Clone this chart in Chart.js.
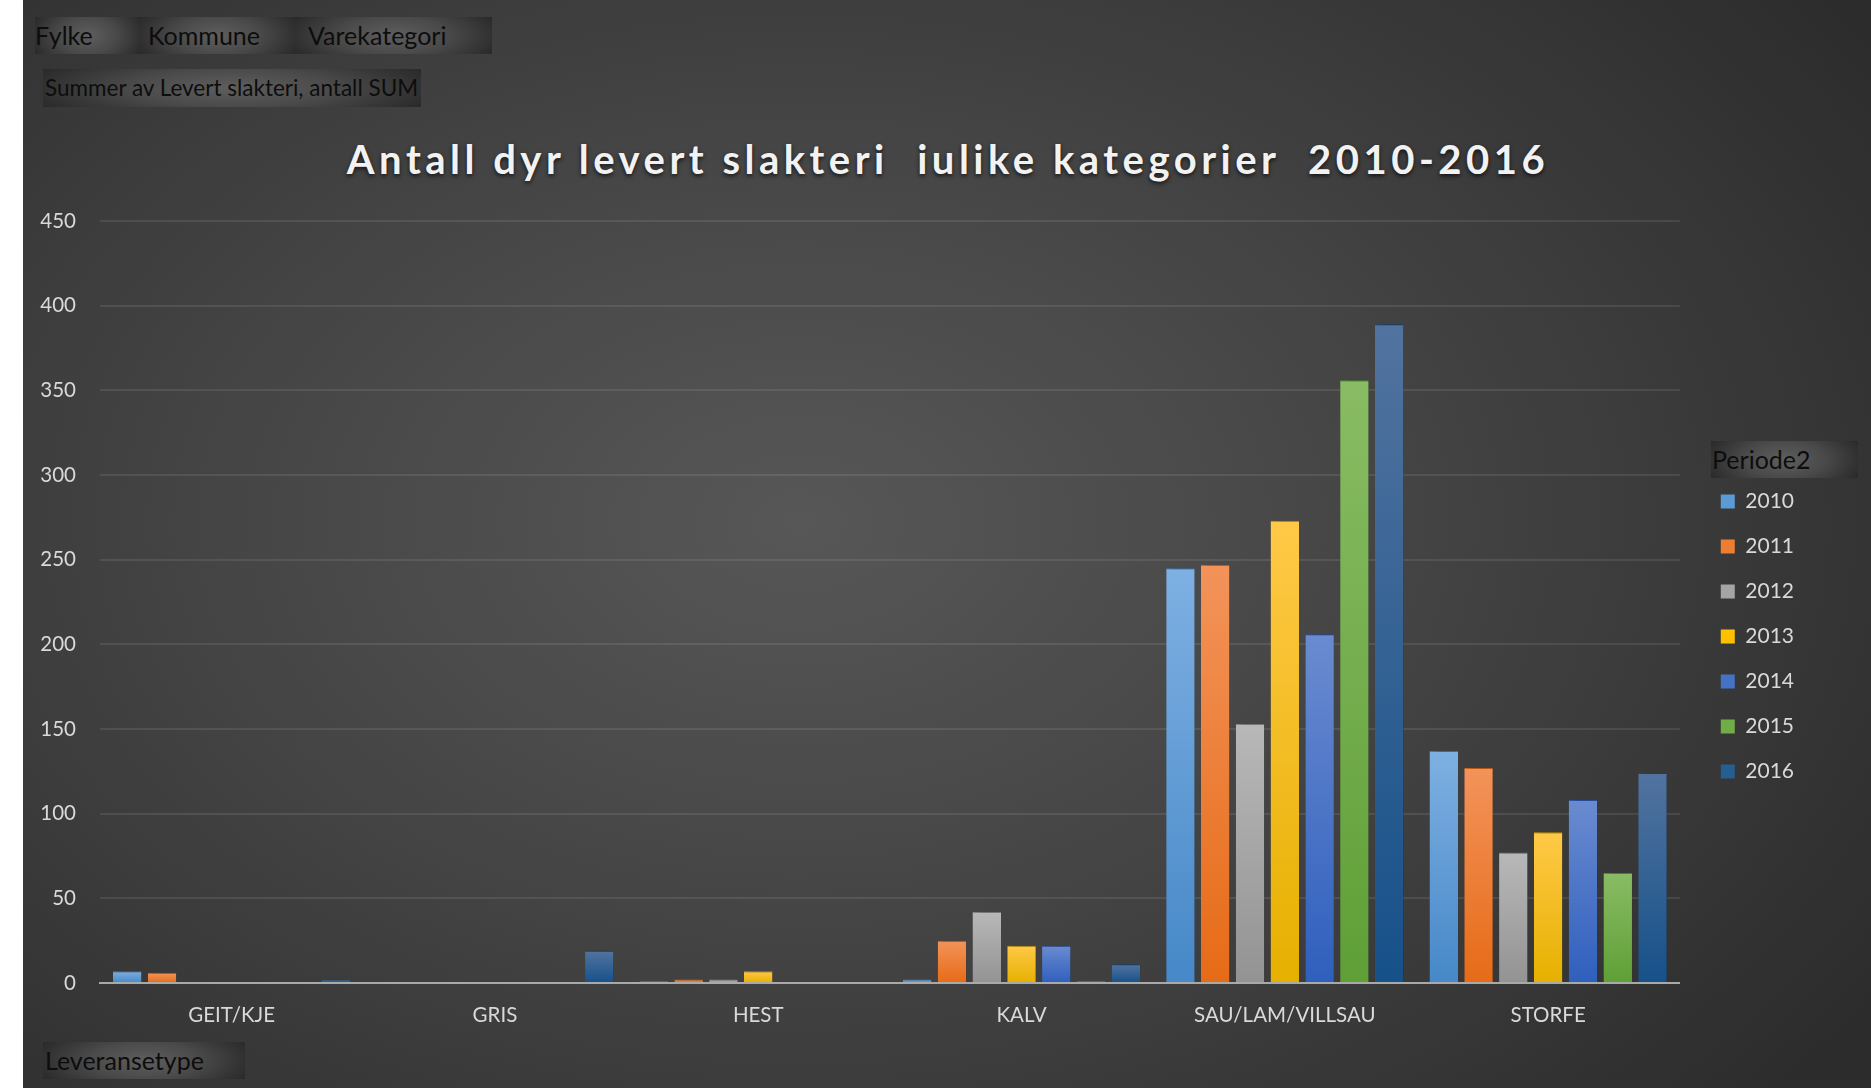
<!DOCTYPE html>
<html>
<head>
<meta charset="utf-8">
<script src="https://cdn.jsdelivr.net/npm/chart.js@4.4.1/dist/chart.umd.min.js"></script>
<style>
  html, body { margin: 0; padding: 0; background: #fff; }
  body { width: 1871px; height: 1088px; position: relative; overflow: hidden; font-family: Lato, "Open Sans", sans-serif; }
  #bg {
    position: absolute; left: 23px; top: 0; right: 0; bottom: 0;
    background: radial-gradient(ellipse 70% 80% at 42% 48%, #575757 0%, #474747 40%, #2c2c2c 100%);
  }
  #wrap { position: absolute; left: 0; top: 0; width: 1871px; height: 1088px; }
  .btn {
    position: absolute; height: 37px; line-height: 37px; color: #0d0d0d; font-size: 25px;
    background: radial-gradient(ellipse 60% 110% at 50% 50%, #5e5e5e 0%, #4a4a4a 45%, #262626 100%);
    white-space: nowrap; box-sizing: border-box;
  }
  #title {
    position: absolute; left: 0; width: 1896px; top: 140px; text-align: center;
    font: bold 40px/39px Lato, sans-serif; letter-spacing: 4.5px; color: #f2f2f2;
    white-space: pre; text-shadow: 0 2px 4px rgba(0,0,0,0.7);
  }
</style>
</head>
<body>
<div id="bg"></div>
<div class="btn" style="left:35px;top:17px;width:105px;">Fylke</div>
<div class="btn" style="left:140px;top:17px;width:155px;padding-left:8px;">Kommune</div>
<div class="btn" style="left:295px;top:17px;width:197px;padding-left:13px;">Varekategori</div>
<div class="btn" style="left:43px;top:69px;width:378px;height:38px;line-height:38px;font-size:22.5px;padding-left:2px;">Summer av Levert slakteri, antall SUM</div>
<div class="btn" style="left:43px;top:1042px;width:202px;padding-left:2px;">Leveransetype</div>
<div class="btn" style="left:1711px;top:441px;width:147px;padding-left:1px;">Periode2</div>
<div id="title">Antall dyr levert slakteri  iulike kategorier  2010-2016</div>
<div id="wrap"><canvas id="chart" width="1871" height="1088"></canvas></div>
<script>
const categories = ['GEIT/KJE', 'GRIS', 'HEST', 'KALV', 'SAU/LAM/VILLSAU', 'STORFE'];
const years = ['2010', '2011', '2012', '2013', '2014', '2015', '2016'];

const v2010 = [7, null, 1, 2, 245, 137];
const v2011 = [6, null, 2, 25, 247, 127];
const v2012 = [null, null, 2, 42, 153, 77];
const v2013 = [null, null, 7, 22, 273, 89];
const v2014 = [null, null, null, 22, 206, 108];
const v2015 = [null, null, null, 1, 356, 65];
const v2016 = [2, 19, null, 11, 389, 124];

const yTicks = [0, 50, 100, 150, 200, 250, 300, 350, 400, 450];

// lys topp, grunnfarge, mørk bunn
const palette = [
  ['#7eb0e2', '#5b9bd5', '#4688c8'],
  ['#f3935a', '#ed7d31', '#e66b17'],
  ['#b8b8b8', '#a5a5a5', '#939393'],
  ['#ffc947', '#ffc000', '#e6b000'],
  ['#6a8bd0', '#4472c4', '#2f5fbd'],
  ['#89bc64', '#70ad47', '#5f9f36'],
  ['#52739f', '#255e91', '#165189']
];

const series = [v2010, v2011, v2012, v2013, v2014, v2015, v2016];

function barFill(cols) {
  return (c) => {
    if (c.type !== 'data' || c.raw == null) return cols[1];
    const y = c.chart.scales.y;
    const top = y.getPixelForValue(c.raw);
    const bottom = y.getPixelForValue(0);
    if (!isFinite(top) || !isFinite(bottom) || top === bottom) return cols[1];
    const g = c.chart.ctx.createLinearGradient(0, top, 0, bottom);
    g.addColorStop(0, cols[0]);
    g.addColorStop(1, cols[2]);
    return g;
  };
}

const barShadow = {
  id: 'barShadow',
  beforeDatasetsDraw(chart) {
    const c = chart.ctx;
    c.save();
    c.shadowColor = 'rgba(0,0,0,0.45)';
    c.shadowBlur = 10;
    c.shadowOffsetX = 3;
    c.shadowOffsetY = 0;
  },
  afterDatasetsDraw(chart) {
    chart.ctx.restore();
  }
};

const tickFont = { family: 'Lato', size: 20.5 };

new Chart(document.getElementById('chart'), {
  type: 'bar',
  data: {
    labels: categories,
    datasets: years.map((yr, i) => ({
      label: yr,
      data: series[i],
      backgroundColor: barFill(palette[i]),
      borderColor: palette[i][2],
      borderWidth: { top: 1, left: 0, right: 0, bottom: 0 },
      borderSkipped: 'bottom',
      categoryPercentage: 0.925,
      barPercentage: 0.82
    }))
  },
  options: {
    responsive: false,
    animation: false,
    layout: { padding: { left: 23, top: 221, right: 67, bottom: 65 } },
    plugins: {
      title: { display: false },
      tooltip: { enabled: false },
      legend: {
        position: 'right',
        align: 'start',
        title: { display: true, text: '', font: { size: 10, lineHeight: 1 }, padding: { top: 236, bottom: 0 } },
        labels: {
          color: '#d9d9d9',
          font: { family: 'Lato', size: 21 },
          boxWidth: 14,
          boxHeight: 14,
          padding: 24,
          generateLabels(chart) {
            return chart.data.datasets.map((ds, i) => ({
              text: ds.label,
              fillStyle: palette[i][1],
              strokeStyle: palette[i][2],
              lineWidth: 0,
              fontColor: '#d9d9d9',
              datasetIndex: i
            }));
          }
        }
      }
    },
    scales: {
      x: {
        grid: { display: false, drawTicks: false },
        border: { display: true, color: '#a9a9a9', width: 2 },
        ticks: { color: '#d9d9d9', font: tickFont, padding: 20 },
        afterFit(s) { s.height = 40; }
      },
      y: {
        min: 0,
        max: 450,
        afterBuildTicks(s) { s.ticks = yTicks.map(v => ({ value: v })); },
        grid: { color: 'rgba(255,255,255,0.09)', lineWidth: 2, drawTicks: false },
        border: { display: false },
        ticks: { color: '#d9d9d9', font: tickFont, padding: 24 },
        afterFit(s) { s.width = 77; }
      },
      gap: {
        position: 'right',
        display: true,
        grid: { display: false },
        border: { display: false },
        ticks: { display: false },
        afterFit(s) { s.width = 17; }
      }
    }
  },
  plugins: [barShadow]
});
</script>
</body>
</html>
